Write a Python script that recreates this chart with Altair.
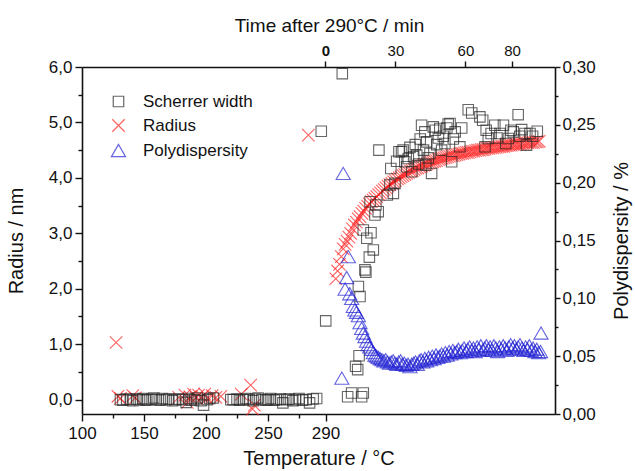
import altair as alt
import pandas as pd

# ---------------- data ----------------
# Temperature part (x = Temperature / °C), left axis (nm)
sq_temp = [131, 133, 136, 139, 141, 144, 146, 149, 151, 153, 156, 158, 160, 163, 165, 168,
           170, 173, 175, 178, 181, 184, 186, 188, 191, 193, 196, 198, 201, 203, 206,
           220, 222, 225, 227, 230, 232, 235, 238, 240, 242, 245, 248, 250, 252, 255,
           257, 260, 262, 265, 267, 270, 272, 275, 277, 279, 281, 283, 285, 287.6]
sq_temp_r = [0.0, -0.01, 0.01, 0.0, -0.02, 0.01, 0.0, 0.02, -0.01, 0.0, 0.01, 0.03, 0.0, -0.01, 0.02, 0.0,
             0.01, -0.02, 0.0, 0.01, 0.0, -0.05, 0.02, -0.01, 0.0, 0.03, -0.02, -0.1, 0.0, 0.02, 0.03,
             0.0, 0.0, 0.01, -0.01, 0.0, 0.02, 0.0, -0.02, 0.01, 0.03, 0.0, -0.01, 0.0, 0.02, -0.01,
             0.0, 0.01, -0.06, 0.0, 0.01, -0.02, 0.0, 0.02, -0.01, 0.0, -0.06, 0.01, 0.02, 4.84]
x_temp = [127.5, 129, 131, 141, 143, 178, 183, 185, 187, 190, 192, 194, 197, 199, 201, 205,
          208, 212, 228.5, 236, 237.5, 239, 280.3]
x_temp_r = [1.03, 0.06, 0.02, 0.07, 0.03, 0.04, 0.08, -0.05, 0.05, 0.1, 0.03, 0.08, 0.05, 0.1,
            0.02, 0.07, 0.04, 0.06, 0.1, 0.26, -0.17, -0.1, 4.77]

# Time part (x = Time after 290 °C / min)
sq_time = [0.1, 7.2, 9.5, 11.2, 12.9, 13.8, 14.4, 15.5, 16.2, 14.1, 14.8, 16.9, 17.3, 18.8, 20.5,
           17.7, 16.2, 19.5, 21.2, 22.6, 21.6, 19.1, 26.5, 27.6, 29.1, 29.8, 22.9, 28.0,
           30.5, 31.5, 32.6, 33.3, 34.0, 34.8, 35.5, 36.2, 37.0, 37.8, 38.5, 39.1, 40.0, 40.6,
           41.2, 42.0, 42.6, 43.0, 43.4, 44.1, 44.8, 45.5, 46.2, 47.0, 47.7, 48.4, 49.0, 49.8,
           50.5, 51.2, 52.0, 52.6, 53.4, 54.1, 54.8, 55.6, 57.6, 58.4,
           61.2, 62.7, 66.2, 67.4, 68.4, 68.9, 69.8, 71.0, 72.6, 73.5, 74.8, 76.3, 77.3, 78.4,
           79.5, 80.5, 82.6, 83.3, 84.1, 85.5, 86.2, 87.7, 88.8, 90.8]
sq_time_r = [1.42, 5.88, 0.05, 0.12, 0.6, 0.54, 0.79, 0.05, 0.12, 2.04, 1.86, 2.34, 2.3, 2.57, 2.7,
             2.91, 3.06, 3.01, 3.33, 3.39, 3.51, 3.57, 3.69, 3.87, 3.72, 3.9, 4.5, 4.17,
             4.3, 4.47, 4.47, 4.5, 4.29, 4.2, 4.35, 4.55, 4.11, 4.38, 4.6, 4.41, 4.25, 4.7,
             4.95, 4.5, 4.83, 4.23, 4.65, 4.36, 4.44, 4.08, 4.92, 4.86, 4.6, 4.72, 4.89, 4.5,
             4.75, 4.62, 4.9, 4.97, 4.98, 4.29, 4.7, 4.83, 4.56, 4.9,
             5.23, 5.17, 5.1, 5.04, 4.56, 4.86, 4.71, 4.8, 4.95, 4.72, 4.8, 4.95, 4.62, 4.71,
             4.86, 4.83, 5.14, 4.75, 4.87, 4.8, 4.59, 4.8, 4.75, 4.84]

x_time = [4.4, 5.2, 6.0, 6.8, 7.6, 8.4, 9.2, 10.0, 10.8, 11.6, 12.4, 13.2, 14.0, 14.8, 15.6, 16.4,
          17.2, 18.0, 18.8, 19.6, 20.4, 21.2, 22.0, 22.8, 23.6, 24.4, 25.2, 26.0, 26.8, 27.6, 28.4,
          29.2, 30.0, 30.8, 31.6, 32.4, 33.2, 34.0, 34.8, 35.6, 36.4, 37.2, 38.0, 38.8, 39.6, 40.4,
          41.2, 42.0, 42.8, 43.6, 44.4, 45.2, 46.0, 46.8, 47.6, 48.4, 49.2, 50.0, 50.8, 51.6, 52.4,
          53.2, 54.0, 54.8, 55.6, 56.4, 57.2, 58.0, 58.8, 59.6, 60.4, 61.2, 62.0, 62.8, 63.6, 64.4,
          65.2, 66.0, 66.8, 67.6, 68.4, 69.2, 70.0, 70.8, 71.6, 72.4, 73.2, 74.0, 74.8, 75.6, 76.4,
          77.2, 78.0, 78.8, 79.6, 80.4, 81.2, 82.0, 82.8, 83.6, 84.4, 85.2, 86.0, 86.8, 87.6, 88.4,
          89.2, 90.0, 90.8, 91.6]
x_time_r = [2.18, 2.32, 2.44, 2.58, 2.72, 2.8, 2.86, 2.93, 3.0, 3.08, 3.15, 3.2, 3.26, 3.3, 3.36, 3.4,
            3.45, 3.49, 3.53, 3.57, 3.6, 3.63, 3.66, 3.7, 3.73, 3.76, 3.79, 3.82, 3.85, 3.88, 3.9,
            3.93, 3.95, 3.98, 4.0, 4.02, 4.04, 4.06, 4.08, 4.1, 4.12, 4.13, 4.15, 4.17, 4.18, 4.2,
            4.21, 4.23, 4.24, 4.25, 4.27, 4.28, 4.29, 4.3, 4.31, 4.33, 4.34, 4.35, 4.36, 4.37, 4.38,
            4.39, 4.4, 4.4, 4.41, 4.42, 4.43, 4.44, 4.44, 4.45, 4.46, 4.46, 4.47, 4.48, 4.48, 4.49,
            4.5, 4.5, 4.51, 4.51, 4.52, 4.53, 4.53, 4.54, 4.54, 4.55, 4.55, 4.56, 4.56, 4.57, 4.57,
            4.58, 4.58, 4.59, 4.59, 4.6, 4.6, 4.61, 4.61, 4.61, 4.62, 4.62, 4.63, 4.63, 4.64, 4.64,
            4.64, 4.65, 4.65, 4.66]

pd_time = [7.0, 7.6, 8.4, 9.1, 9.8, 10.4, 11.2, 11.9, 12.6, 13.3, 14.1, 14.8, 15.5, 16.2, 16.9,
           17.6, 18.3, 19.0, 19.8, 20.5, 21.2, 21.9, 22.6, 23.4, 24.2, 25.0, 25.8, 26.6, 27.4,
           28.2, 29.0, 29.8, 30.6, 31.4, 32.2, 33.0, 33.8, 34.6, 35.4, 36.2, 37.0, 37.8, 38.6,
           39.4, 40.2, 41.0, 41.8, 42.6, 43.4, 44.2, 45.0, 45.8, 46.6, 47.4, 48.2, 49.0, 49.8,
           50.6, 51.4, 52.2, 53.0, 53.8, 54.6, 55.4, 56.2, 57.0, 57.8, 58.6, 59.4, 60.2, 61.0,
           61.8, 62.6, 63.4, 64.2, 65.0, 65.8, 66.6, 67.4, 68.2, 69.0, 69.8, 70.6, 71.4, 72.2,
           73.0, 73.8, 74.6, 75.4, 76.2, 77.0, 77.8, 78.6, 79.4, 80.2, 81.0, 81.8, 82.6, 83.4,
           84.2, 85.0, 85.8, 86.6, 87.4, 88.2, 89.0, 89.8, 90.6, 91.4, 92.2, 92.4]
pd_val = [0.031, 0.208, 0.108, 0.118, 0.136, 0.104, 0.1, 0.093, 0.09, 0.088, 0.085, 0.079, 0.074,
          0.07, 0.067, 0.063, 0.06, 0.058, 0.056, 0.053, 0.051, 0.05, 0.049, 0.048, 0.047, 0.046,
          0.047, 0.045, 0.044, 0.045, 0.046, 0.044, 0.043, 0.045, 0.046, 0.043, 0.044, 0.042,
          0.043, 0.041, 0.043, 0.044, 0.045, 0.043, 0.046, 0.047, 0.045, 0.048, 0.046, 0.049,
          0.047, 0.05, 0.048, 0.051, 0.049, 0.05, 0.052, 0.05, 0.053, 0.051, 0.054, 0.052, 0.055,
          0.053, 0.054, 0.056, 0.053, 0.055, 0.057, 0.054, 0.056, 0.058, 0.055, 0.057, 0.054,
          0.058, 0.056, 0.059, 0.055, 0.057, 0.059, 0.056, 0.058, 0.055, 0.059, 0.057, 0.054,
          0.058, 0.056, 0.059, 0.057, 0.055, 0.058, 0.06, 0.057, 0.059, 0.056, 0.058, 0.06,
          0.057, 0.055, 0.058, 0.056, 0.059, 0.055, 0.057, 0.054, 0.056, 0.053, 0.054, 0.07]

series_names = ["Scherrer width", "Radius", "Polydispersity"]
series_colors = ["#262626", "#ff2020", "#2323d4"]
series_shapes = ["square", "M-1,-1L1,1M-1,1L1,-1", "triangle-up"]
series_sizes = [110, 200, 125]

# ---------------- tables ----------------
df_temp = pd.concat([
    pd.DataFrame({"series": "Radius", "x": x_temp, "v": x_temp_r}),
    pd.DataFrame({"series": "Scherrer width", "x": sq_temp, "v": sq_temp_r}),
], ignore_index=True)
df_time = pd.concat([
    pd.DataFrame({"series": "Radius", "x": x_time, "v": x_time_r}),
    pd.DataFrame({"series": "Scherrer width", "x": sq_time, "v": sq_time_r}),
], ignore_index=True)
df_pd = pd.DataFrame({"series": "Polydispersity", "x": pd_time, "v": pd_val})

FONT = "Liberation Sans"

legend = alt.Legend(title=None, orient="none", legendX=28, legendY=26, labelFont=FONT,
                    labelFontSize=17, labelColor="#111", symbolSize=130, symbolStrokeWidth=1.2,
                    rowPadding=6, labelOffset=16)
color = alt.Color("series:N", scale=alt.Scale(domain=series_names, range=series_colors), legend=legend)
shape = alt.Shape("series:N", scale=alt.Scale(domain=series_names, range=series_shapes), legend=legend)
size = alt.Size("series:N", scale=alt.Scale(domain=series_names, range=series_sizes), legend=None)

r_scale = alt.Scale(domain=[-0.26, 6.0], nice=False, zero=False)
t_scale = alt.Scale(domain=[-104.4, 98.4], nice=False, zero=False)
p_scale = alt.Scale(domain=[0, 0.30], nice=False, zero=False)
# broken temperature axis: linear up to 275 °C, compressed up to 290 °C, then the time part
T_scale = alt.Scale(domain=[100, 275, 290, 420], range=[0, 217, 243.5, 473], nice=False, zero=False)

minor_T = "datum.value == 125 || datum.value == 175 || datum.value == 225 || datum.value == 275"
minor_r = "abs(datum.value * 2 - round(datum.value * 2)) < 0.01 && abs(datum.value - round(datum.value)) > 0.1"
minor_p = "abs(datum.value * 20 - round(datum.value * 20)) > 0.1"

bottom_axis = alt.Axis(orient="bottom", title="Temperature / °C",
                       values=[100, 125, 150, 175, 200, 225, 250, 275, 290],
                       labelExpr=f"({minor_T}) ? '' : datum.label",
                       tickSize={"condition": {"test": minor_T, "value": 4}, "value": 7},
                       labelFlush=False, labelOverlap=False,
                       labelPadding=4, titlePadding=7)
left_axis = alt.Axis(orient="left", title="Radius / nm",
                     values=[0, 0.5, 1, 1.5, 2, 2.5, 3, 3.5, 4, 4.5, 5, 5.5, 6],
                     labelExpr=f"({minor_r}) ? '' : replace(format(datum.value, '.1f'), '.', ',')",
                     tickSize={"condition": {"test": minor_r, "value": 4}, "value": 7},
                     labelFlush=False, labelOverlap=False,
                     labelPadding=3, titlePadding=22)
top_axis = alt.Axis(orient="top", title="Time after 290°C / min", values=[0, 30, 60, 80],
                    labelFontWeight={"condition": {"test": "datum.value == 0", "value": "bold"}, "value": "normal"},
                    labelFlush=False, labelOverlap=False, titleX=247,
                    labelFontSize=15, tickSize=6, labelPadding=3, titlePadding=8, titleFontSize=19)
right_axis = alt.Axis(orient="right", title="Polydispersity / %", titleAngle=270,
                      titleX=66, titleY=173.5, titleAlign="center", titleBaseline="middle",
                      values=[0, 0.025, 0.05, 0.075, 0.1, 0.125, 0.15, 0.175, 0.2, 0.225, 0.25, 0.275, 0.3],
                      labelExpr=f"({minor_p}) ? '' : replace(format(datum.value, '.2f'), '.', ',')",
                      tickSize={"condition": {"test": minor_p, "value": 3}, "value": 5},
                      labelFlush=False, labelOverlap=False,
                      labelPadding=2)

pt = dict(filled=False, strokeWidth=1.1)

layer_temp = alt.Chart(df_temp).mark_point(**pt).encode(
    x=alt.X("x:Q", scale=T_scale, axis=bottom_axis),
    y=alt.Y("v:Q", scale=r_scale, axis=left_axis),
    color=color, shape=shape, size=size,
)
layer_time = alt.Chart(df_time).mark_point(**pt).encode(
    x=alt.X("x:Q", scale=t_scale, axis=top_axis),
    y=alt.Y("v:Q", scale=r_scale, axis=None),
    color=color, shape=shape, size=size,
)
layer_pd = alt.Chart(df_pd).mark_point(**pt).encode(
    x=alt.X("x:Q", scale=t_scale, axis=None),
    y=alt.Y("v:Q", scale=p_scale, axis=right_axis),
    color=color, shape=shape, size=size,
)

chart = alt.layer(layer_temp, layer_time, layer_pd).resolve_scale(
    x="independent", y="independent", color="shared", shape="shared", size="shared"
).properties(
    width=473, height=347,
    autosize=alt.AutoSizeParams(type="none"),
    padding={"left": 82, "top": 67, "right": 80, "bottom": 57},
    background="white",
).configure_view(stroke=None).configure_axis(
    grid=False, domainColor="#111", domainWidth=1.6, tickColor="#111", tickWidth=1.4,
    labelFont=FONT, labelFontSize=17, labelColor="#111",
    titleFont=FONT, titleFontSize=20, titleFontWeight="normal", titleColor="#111",
)

chart.save("out.html", embed_options={"renderer": "svg", "actions": False})
